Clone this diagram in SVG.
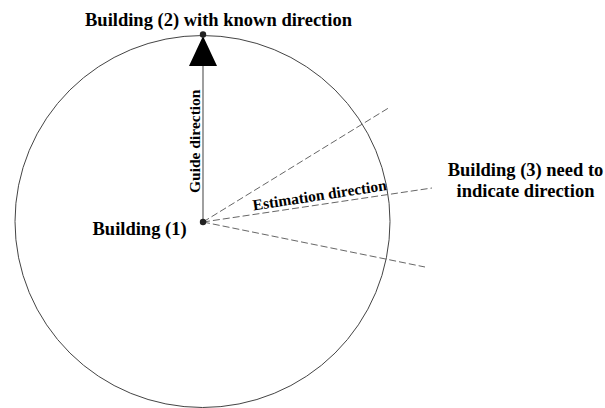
<svg xmlns="http://www.w3.org/2000/svg" width="605" height="408" viewBox="0 0 605 408">
<style>
text{font-family:"Liberation Serif","Times New Roman",serif;font-weight:bold;fill:#000}
.lbl{font-size:18.5px}
.sm{font-size:15.5px}
.dash{stroke:#666;stroke-width:1;stroke-dasharray:7 3;fill:none}
</style>
<rect width="605" height="408" fill="#fff"/>
<g id="boundary">
<ellipse cx="202.5" cy="221.5" rx="187.5" ry="186" fill="none" stroke="#444" stroke-width="1"/>
</g>
<g id="connectors">
<line x1="203" y1="222" x2="203" y2="64" stroke="#888" stroke-width="1.6"/>
<polygon points="203,36 217,66 189,66" fill="#000"/>
<line class="dash" x1="203" y1="222" x2="388.5" y2="108"/>
<line class="dash" x1="203" y1="222" x2="432" y2="188"/>
<line class="dash" x1="203" y1="222" x2="425" y2="267"/>
<text class="sm" transform="translate(200,193) rotate(-90)">Guide direction</text>
<text class="sm" transform="translate(253.5,210.5) rotate(-8.7)">Estimation direction</text>
</g>
<g id="building1">
<circle cx="203" cy="222" r="3.2" fill="#222"/>
<text class="lbl" x="92.5" y="235">Building (1)</text>
</g>
<g id="building2">
<circle cx="203" cy="34.5" r="3.2" fill="#222"/>
<text class="lbl" x="218.5" y="26" text-anchor="middle">Building (2) with known direction</text>
</g>
<g id="building3">
<text class="lbl" x="525.5" y="175.5" text-anchor="middle">Building (3) need to</text>
<text class="lbl" x="525.5" y="196.5" text-anchor="middle">indicate direction</text>
</g>
</svg>
